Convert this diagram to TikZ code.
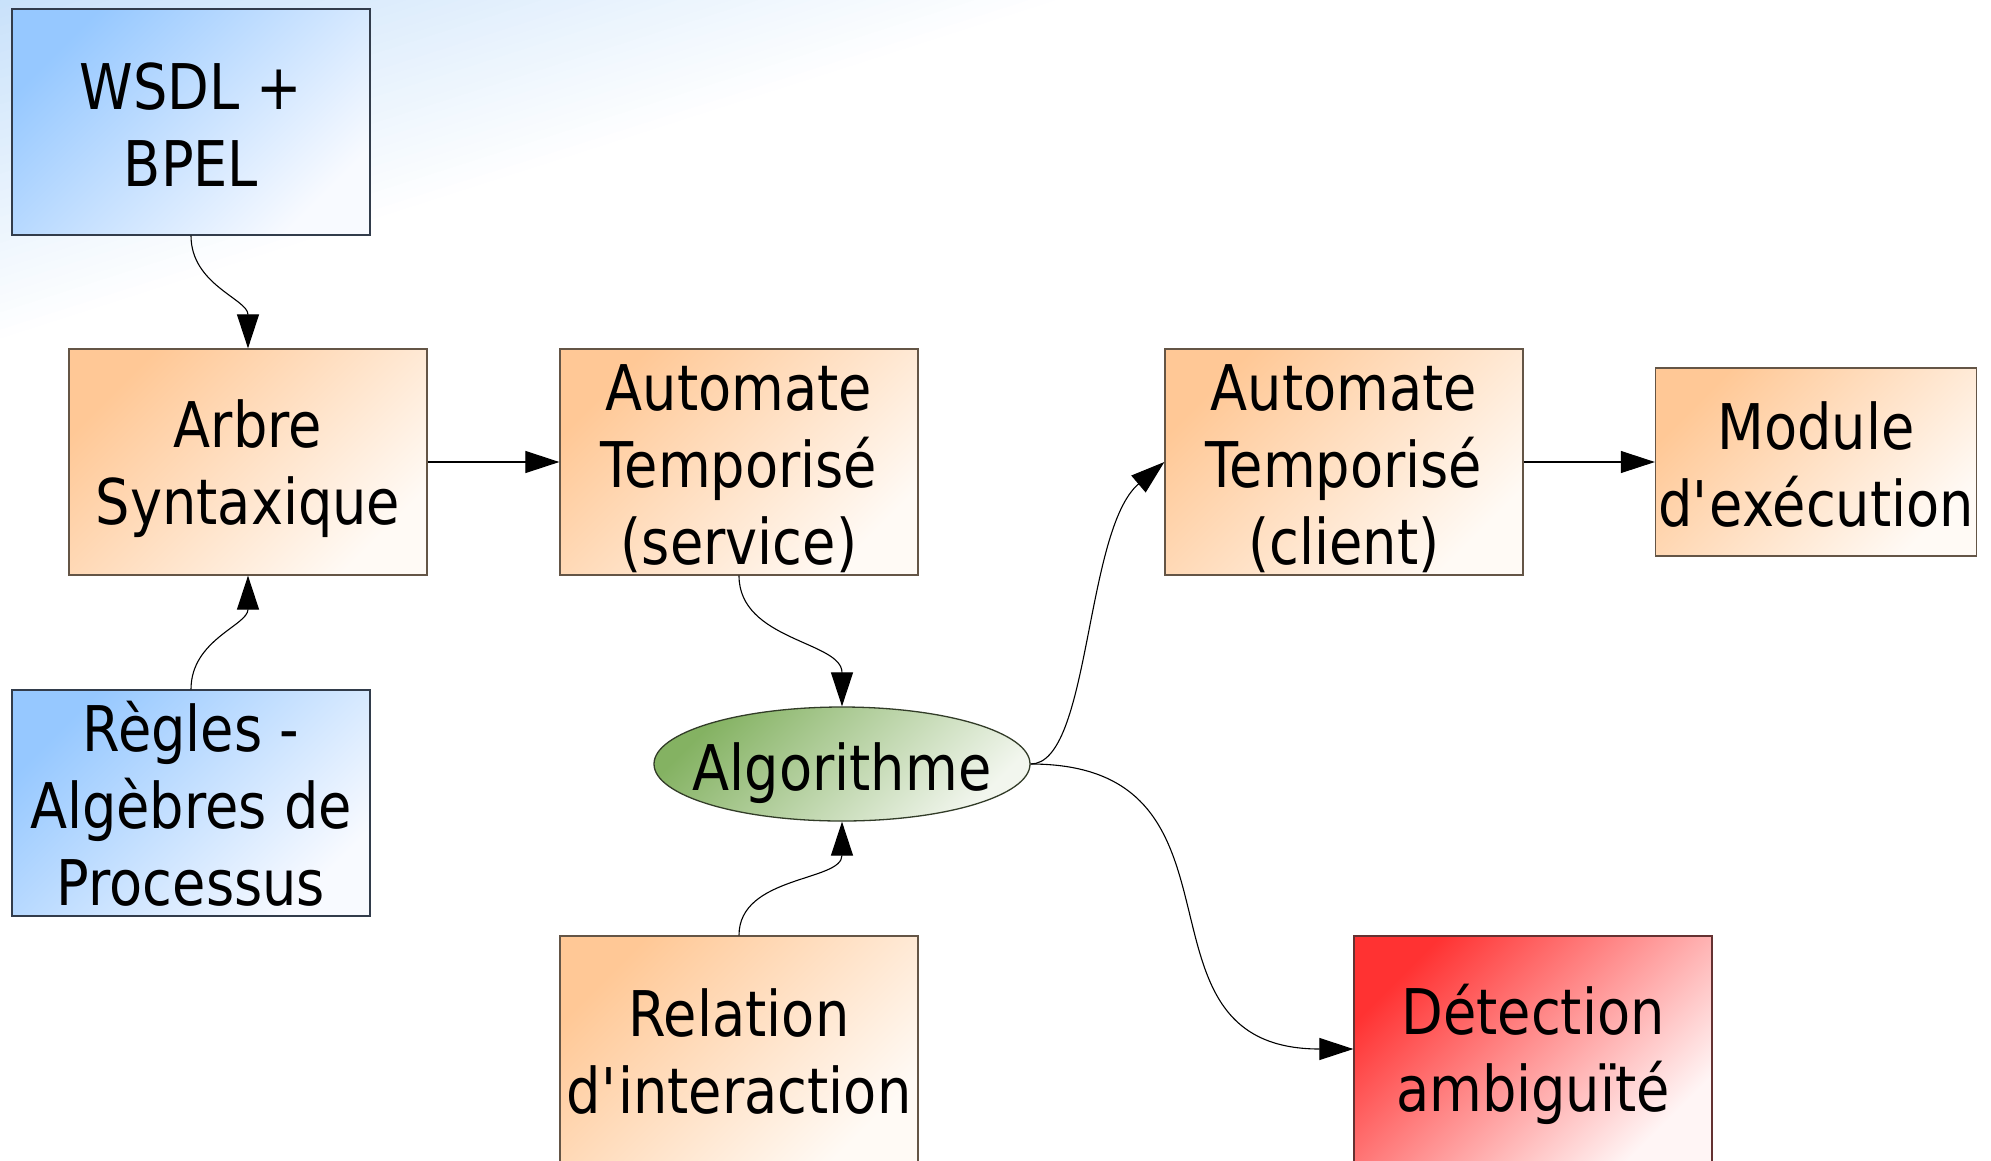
\documentclass[tikz,border=0pt]{standalone}
\usepackage{fontspec}
\setmainfont{DejaVu Sans}[FakeStretch=0.86]
\usetikzlibrary{arrows.meta,shapes.geometric}

\definecolor{bgblue}{RGB}{200,225,250}
\definecolor{bluetl}{RGB}{150,200,255}
\definecolor{bluebr}{RGB}{248,250,255}
\definecolor{orangetl}{RGB}{255,200,150}
\definecolor{orangebr}{RGB}{255,250,245}
\definecolor{greentl}{RGB}{132,178,98}
\definecolor{greenbr}{RGB}{242,246,238}
\definecolor{redtl}{RGB}{255,50,50}
\definecolor{redbr}{RGB}{255,245,245}
\definecolor{blueline}{RGB}{50,60,75}
\definecolor{orangeline}{RGB}{100,85,70}
\definecolor{greenline}{RGB}{50,60,40}
\definecolor{redline}{RGB}{100,50,50}

% fixed line boxes so every label sits the same way in its block
\newcommand{\topst}{\rule{0pt}{61pt}}
\newcommand{\botst}{\rule[-10pt]{0pt}{10pt}}

\begin{document}
\begin{tikzpicture}[x=1pt,y=1pt,
  box/.style={rectangle, line width=1.3pt, minimum width=358pt, minimum height=226pt,
    inner sep=0pt, align=center, font=\fontsize{63}{77}\selectfont},
  bluebox/.style={box, draw=blueline, top color=bluetl, bottom color=bluebr, shading angle=45},
  orangebox/.style={box, draw=orangeline, top color=orangetl, bottom color=orangebr, shading angle=45},
  redbox/.style={box, draw=redline, top color=redtl, bottom color=redbr, shading angle=45},
  algobox/.style={ellipse, draw=greenline, line width=1.3pt, minimum width=376pt, minimum height=114pt,
    inner sep=0pt, font=\fontsize{63}{77}\selectfont,
    top color=greentl, bottom color=greenbr, shading angle=45},
  conn/.style={line width=1.1pt, -{Triangle[length=34pt,width=22pt]}}
]
\useasboundingbox (0,0) rectangle (1991,-1160);
\fill[white] (0,0) rectangle (1991,-1160);

% soft blue wash in the upper left corner
\foreach \i in {0,...,40} {
  \pgfmathsetmacro\dd{330*(1-\i/40)}
  \pgfmathsetmacro\cc{100*\i/40}
  \fill[bgblue!\cc!white] (0,0) -- (\dd/0.305,0) -- (0,-\dd/0.952) -- cycle;
}

% blocks
\node[bluebox]   (wsdl)   at (191,-122)  {\topst WSDL +\\BPEL\botst};
\node[orangebox] (arbre)  at (248,-462)  {\topst Arbre\\Syntaxique\botst};
\node[bluebox]   (regles) at (191,-803)  {\topst Règles -\\Algèbres de\\Processus\botst};
\node[orangebox] (autoS)  at (739,-462)  {\topst Automate\\Temporisé\\(service)\botst};
\node[algobox]   (algo)   at (842,-764)  {\rule{0pt}{66pt}\makebox[0pt]{Algorithme}\botst};
\node[orangebox] (rel)    at (739,-1049) {\topst Relation\\d\textquotesingle interaction\botst};
\node[orangebox] (autoC)  at (1344,-462) {\topst Automate\\Temporisé\\(client)\botst};
\node[orangebox, minimum width=321pt, minimum height=188pt] (module) at (1816,-462)
  {\topst Module\\d\textquotesingle exécution\botst};
\node[redbox]    (detect) at (1533,-1049) {\topst Détection\\ambiguïté\botst};

% connectors
\draw[conn] (wsdl.south) to[out=-90,in=90] (arbre.north);
\draw[conn] (regles.north) to[out=90,in=-90] (arbre.south);
\draw[conn] (arbre.east) -- (autoS.west);
\draw[conn] (autoS.south) to[out=-90,in=90] (algo.north);
\draw[conn] (rel.north) to[out=90,in=-90] (algo.south);
\draw[conn] (algo.east) .. controls +(60,0) and +(-80,-68) .. (autoC.west);
\draw[conn] (algo.east) to[out=0,in=180,looseness=1.4] (detect.west);
\draw[conn] (autoC.east) -- (module.west);
\end{tikzpicture}
\end{document}
